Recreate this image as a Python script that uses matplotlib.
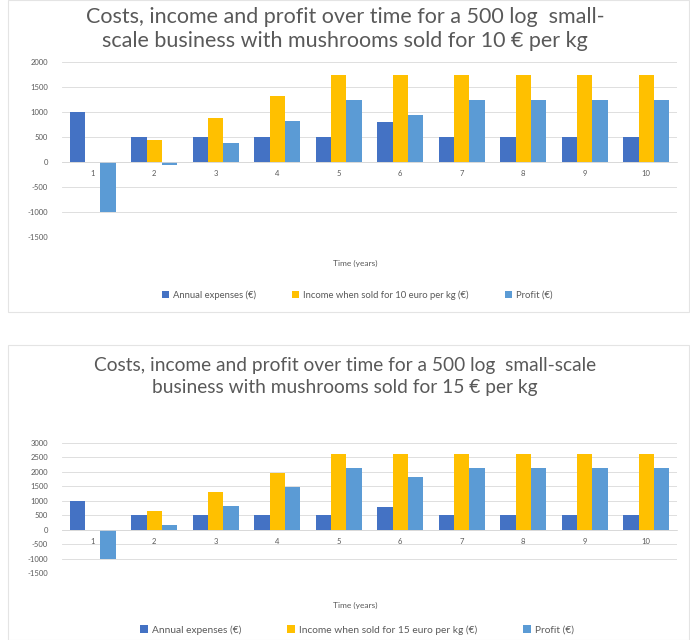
import matplotlib.pyplot as plt
import matplotlib.patches as mpatches
import numpy as np

# --- data ---
years = ["1", "2", "3", "4", "5", "6", "7", "8", "9", "10"]
expenses = [1000, 500, 500, 500, 500, 800, 500, 500, 500, 500]
income_10 = [0, 437.5, 875, 1312.5, 1750, 1750, 1750, 1750, 1750, 1750]
profit_10 = [-1000, -62.5, 375, 812.5, 1250, 950, 1250, 1250, 1250, 1250]
income_15 = [0, 656.25, 1312.5, 1968.75, 2625, 2625, 2625, 2625, 2625, 2625]
profit_15 = [-1000, 156.25, 812.5, 1468.75, 2125, 1825, 2125, 2125, 2125, 2125]

yticks_top = [-1500, -1000, -500, 0, 500, 1000, 1500, 2000]
yticks_bottom = [-1500, -1000, -500, 0, 500, 1000, 1500, 2000, 2500, 3000]

# colours (Excel default palette)
c_exp = "#4472C4"
c_inc = "#FFC000"
c_pro = "#5B9BD5"
grey_txt = "#595959"
grid_col = "#D9D9D9"

plt.rcParams['font.family'] = ['Lato', 'DejaVu Sans']

fig = plt.figure(figsize=(6.9, 6.4), dpi=100)

# light chart-area borders like the Excel chart objects
for (y0, h) in [(1 - 312 / 640, 312 / 640), (0.0, 295 / 640)]:
    fig.patches.append(mpatches.Rectangle((8 / 690, y0), 1 - 9 / 690, h,
                                          transform=fig.transFigure, fill=False,
                                          edgecolor="#E4E4E4", lw=0.8))


def draw_chart(ax, income, profit, yticks, price):
    x = np.arange(len(years))
    w = 0.25
    ax.bar(x - w, expenses, w, color=c_exp, label="Annual expenses (€)", zorder=3)
    ax.bar(x, income, w, color=c_inc,
           label="Income when sold for %d euro per kg (€)" % price, zorder=3)
    ax.bar(x + w, profit, w, color=c_pro, label="Profit (€)", zorder=3)

    # category axis crosses at zero (set before tick labels, it resets them)
    for s in ['top', 'right', 'left']:
        ax.spines[s].set_visible(False)
    ax.spines['bottom'].set_position(('data', 0))
    ax.spines['bottom'].set_color(grid_col)
    ax.spines['bottom'].set_linewidth(0.6)
    ax.spines['bottom'].set_zorder(4)

    ax.set_xlim(-0.5, len(years) - 0.5)
    ax.set_ylim(yticks[0], yticks[-1])
    ax.set_yticks(yticks)
    ax.set_yticklabels([str(v) for v in yticks], fontsize=5.5, color=grey_txt)
    ax.set_xticks(x)
    ax.set_xticklabels(years, fontsize=5.5, color=grey_txt)
    ax.tick_params(length=0)
    ax.tick_params(axis='y', pad=10)
    ax.tick_params(axis='x', pad=6)
    ax.grid(axis='y', color=grid_col, lw=0.6, zorder=0)


# --- top chart: 10 euro per kg ---
ax1 = fig.add_axes([62 / 690, 1 - 237 / 640, 615 / 690, 175 / 640])
draw_chart(ax1, income_10, profit_10, yticks_top, 10)
fig.text(0.5, 1 - 17 / 640,
         "Costs, income and profit over time for a 500 log  small-",
         ha='center', va='center', fontsize=15.5, color=grey_txt)
fig.text(0.5, 1 - 41 / 640,
         "scale business with mushrooms sold for 10 € per kg",
         ha='center', va='center', fontsize=15.5, color=grey_txt)
fig.text(355 / 690, 1 - 263 / 640, "Time (years)", ha='center', va='center',
         fontsize=6, color=grey_txt)
h, l = ax1.get_legend_handles_labels()
fig.legend(h, l, loc='center', bbox_to_anchor=(357 / 690, 1 - 295 / 640), ncol=3,
           frameon=False, fontsize=6.8, handlelength=0.8, handleheight=0.8,
           handletextpad=0.4, columnspacing=3.8, labelcolor=grey_txt)

# --- bottom chart: 15 euro per kg ---
ax2 = fig.add_axes([62 / 690, 1 - 573 / 640, 615 / 690, 130 / 640])
draw_chart(ax2, income_15, profit_15, yticks_bottom, 15)
fig.text(0.5, 1 - 366 / 640,
         "Costs, income and profit over time for a 500 log  small-scale",
         ha='center', va='center', fontsize=13.8, color=grey_txt)
fig.text(0.5, 1 - 387 / 640,
         "business with mushrooms sold for 15 € per kg",
         ha='center', va='center', fontsize=13.8, color=grey_txt)
fig.text(355 / 690, 1 - 605 / 640, "Time (years)", ha='center', va='center',
         fontsize=6, color=grey_txt)
h, l = ax2.get_legend_handles_labels()
fig.legend(h, l, loc='center', bbox_to_anchor=(357 / 690, 1 - 630 / 640), ncol=3,
           frameon=False, fontsize=7.3, handlelength=0.8, handleheight=0.8,
           handletextpad=0.4, columnspacing=4.5, labelcolor=grey_txt)

fig.savefig("out.png", dpi=100)
